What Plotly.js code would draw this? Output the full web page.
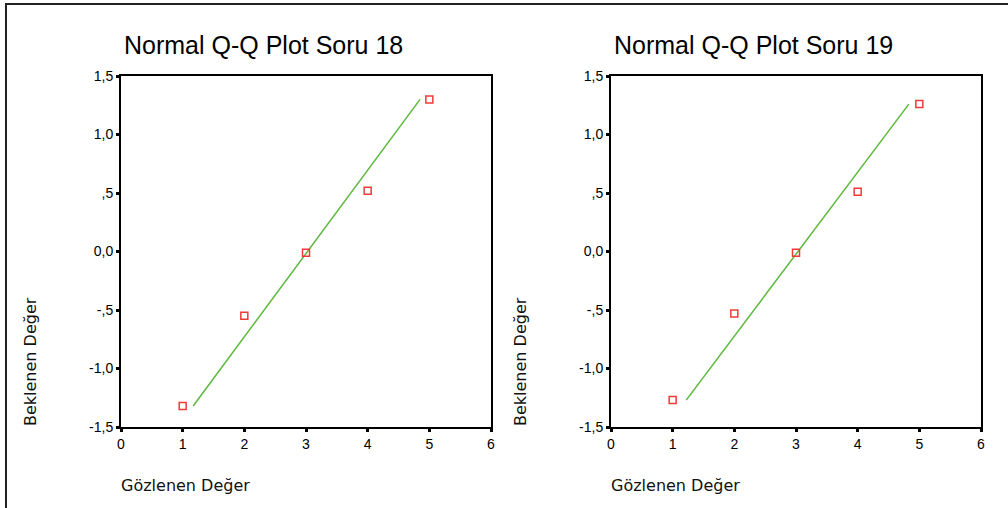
<!DOCTYPE html>
<html>
<head>
<meta charset="utf-8">
<script src="https://cdn.plot.ly/plotly-3.0.1.min.js"></script>
<style>html,body{margin:0;padding:0;background:#fff;}#chart{width:1008px;height:508px;}</style>
</head>
<body>
<div id="chart"></div>
<script>
// Data
const observed = [1, 2, 3, 4, 5];
const expected18 = [-1.32, -0.55, -0.01, 0.52, 1.30];
const expected19 = [-1.27, -0.53, -0.01, 0.51, 1.26];
const line18X = [1.17, 4.85];
const line18Y = [-1.32, 1.30];
const line19X = [1.22, 4.83];
const line19Y = [-1.27, 1.26];
const xTickVals = [0, 1, 2, 3, 4, 5, 6];
const yTickVals = [1.5, 1.0, 0.5, 0.0, -0.5, -1.0, -1.5];
const yTickText = ["1,5", "1,0", ",5", "0,0", "-,5", "-1,0", "-1,5"];
const titles = ["Normal Q-Q Plot Soru 18", "Normal Q-Q Plot Soru 19"];
const xTitle = "Gözlenen Değer";
const yTitle = "Beklenen Değer";

const W = 1008, H = 508;
const px = v => v / W;
const py = v => 1 - v / H;

const markerStyle = {symbol: 'square-open', size: 7, color: '#f03a3a', line: {width: 1.5, color: '#f03a3a'}};
const lineStyle = {color: '#5cb83c', width: 1.5};

const traces = [
  {x: line18X, y: line18Y, mode: 'lines', line: lineStyle, xaxis: 'x', yaxis: 'y', hoverinfo: 'skip'},
  {x: observed, y: expected18, mode: 'markers', marker: markerStyle, xaxis: 'x', yaxis: 'y'},
  {x: line19X, y: line19Y, mode: 'lines', line: lineStyle, xaxis: 'x2', yaxis: 'y2', hoverinfo: 'skip'},
  {x: observed, y: expected19, mode: 'markers', marker: markerStyle, xaxis: 'x2', yaxis: 'y2'}
];

const tickFont = {family: '"Liberation Sans", Arial, sans-serif', size: 14, color: '#000'};
function xAx(domain, anchor) {
  return {domain: domain, anchor: anchor, range: [0, 6], tickvals: xTickVals, ticktext: xTickVals.map(String),
    showgrid: false, zeroline: false, showline: true, linecolor: '#000', linewidth: 2, mirror: true,
    ticks: 'outside', ticklen: 3, tickwidth: 3, tickcolor: '#000', tickfont: tickFont, fixedrange: true};
}
function yAx(anchor) {
  return {domain: [py(427), py(76)], anchor: anchor, range: [-1.5, 1.5], tickvals: yTickVals, ticktext: yTickText,
    showgrid: false, zeroline: false, showline: true, linecolor: '#000', linewidth: 2, mirror: true,
    ticks: 'outside', ticklen: 3, tickwidth: 3, tickcolor: '#000', tickfont: tickFont, fixedrange: true};
}

const titleFont = {family: '"Liberation Sans", Arial, sans-serif', size: 25, color: '#000'};
const labFont = {family: '"DejaVu Sans", sans-serif', size: 16, color: '#111'};

const annotations = [
  {text: titles[0], x: px(263), y: py(45), xref: 'paper', yref: 'paper', showarrow: false, font: titleFont, xanchor: 'center', yanchor: 'middle'},
  {text: titles[1], x: px(753), y: py(45), xref: 'paper', yref: 'paper', showarrow: false, font: titleFont, xanchor: 'center', yanchor: 'middle'},
  {text: xTitle, x: px(119), y: py(485), xref: 'paper', yref: 'paper', showarrow: false, font: labFont, xanchor: 'left', yanchor: 'middle'},
  {text: xTitle, x: px(609), y: py(485), xref: 'paper', yref: 'paper', showarrow: false, font: labFont, xanchor: 'left', yanchor: 'middle'},
  {text: yTitle, x: px(30), y: py(362), xref: 'paper', yref: 'paper', showarrow: false, font: labFont, textangle: -90, xanchor: 'center', yanchor: 'middle'},
  {text: yTitle, x: px(520), y: py(362), xref: 'paper', yref: 'paper', showarrow: false, font: labFont, textangle: -90, xanchor: 'center', yanchor: 'middle'}
];

const layout = {
  width: W, height: H,
  margin: {l: 0, r: 0, t: 0, b: 0},
  paper_bgcolor: '#fff', plot_bgcolor: '#fff',
  showlegend: false,
  xaxis: xAx([px(121), px(491)], 'y'),
  yaxis: yAx('x'),
  xaxis2: xAx([px(611), px(981)], 'y2'),
  yaxis2: yAx('x2'),
  annotations: annotations,
  shapes: [
    {type: 'rect', xref: 'paper', yref: 'paper', x0: px(6), x1: 1.05, y0: -0.05, y1: py(4), line: {color: '#222', width: 2}, fillcolor: 'rgba(0,0,0,0)', layer: 'below'}
  ]
};

Plotly.newPlot('chart', traces, layout, {displayModeBar: false, staticPlot: true});
</script>
</body>
</html>
